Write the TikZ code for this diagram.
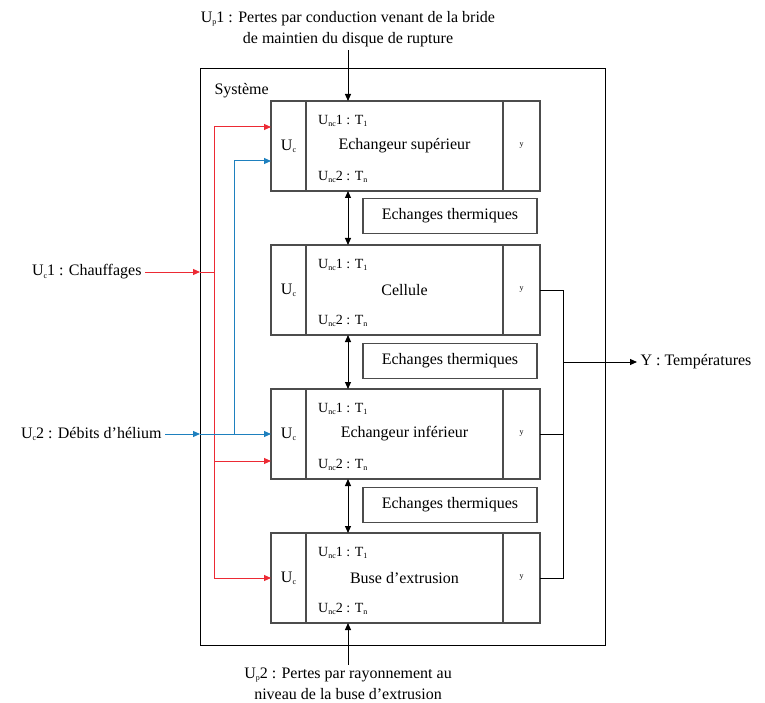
\documentclass[tikz,border=0pt]{standalone}
\usepackage{fontspec}
\setmainfont{Liberation Serif}
\usepackage{xcolor}
\usetikzlibrary{arrows.meta}
\usetikzlibrary{positioning}
\usetikzlibrary{calc}

\definecolor{rouge}{RGB}{236,42,52}
\definecolor{bleu}{RGB}{30,128,190}
\newcommand{\ind}[1]{\raisebox{-0.3ex}{\fontsize{8}{9}\selectfont #1}}

\begin{document}
\begin{tikzpicture}[x=1pt,y=-1pt,>={Triangle[length=7pt,width=6pt]}]
	\tikzstyle{every node}=[font=\fontsize{16}{21}\selectfont]
	\tikzstyle{case}=[draw=black!70,line width=1.3pt,minimum height=90pt,inner sep=0pt,outer sep=0pt]
	\tikzstyle{echange}=[draw=black!70,line width=1.3pt,minimum width=174pt,minimum height=35pt]
	\tikzstyle{petit}=[font=\fontsize{14}{16}\selectfont,inner sep=0pt,anchor=west]
	\tikzstyle{fleche}=[line width=1pt]
	
	\useasboundingbox (0,0) rectangle (765,703);
	
	% systeme
	\node[draw,line width=1pt,minimum width=405pt,minimum height=576pt,inner sep=0pt,outer sep=0pt] (sys) at (402.5,357) {};
	\node[anchor=west] (sysl) at (211,91) {Système};
	
	% echangeur superieur
	\node[case,minimum width=35pt] (uc1) at (288.5,146) {U\ind{c}};
	\node[case,minimum width=197pt,right=0pt of uc1] (m1) {Echangeur supérieur};
	\node[case,minimum width=37pt,right=0pt of m1] (y1) {\ind{y}};
	\node[petit] (t1a) at ($(m1.north west)+(12,20)$) {U\ind{nc}1 : T\ind{1}};
	\node[petit] (t1b) at ($(m1.south west)+(12,-14)$) {U\ind{nc}2 : T\ind{n}};
	
	% cellule
	\node[case,minimum width=35pt] (uc2) at (288.5,290) {U\ind{c}};
	\node[case,minimum width=197pt,right=0pt of uc2] (m2) {Cellule};
	\node[case,minimum width=37pt,right=0pt of m2] (y2) {\ind{y}};
	\node[petit] (t2a) at ($(m2.north west)+(12,20)$) {U\ind{nc}1 : T\ind{1}};
	\node[petit] (t2b) at ($(m2.south west)+(12,-14)$) {U\ind{nc}2 : T\ind{n}};
	
	% echangeur inferieur
	\node[case,minimum width=35pt] (uc3) at (288.5,434) {U\ind{c}};
	\node[case,minimum width=197pt,right=0pt of uc3] (m3) {Echangeur inférieur};
	\node[case,minimum width=37pt,right=0pt of m3] (y3) {\ind{y}};
	\node[petit] (t3a) at ($(m3.north west)+(12,20)$) {U\ind{nc}1 : T\ind{1}};
	\node[petit] (t3b) at ($(m3.south west)+(12,-14)$) {U\ind{nc}2 : T\ind{n}};
	
	% buse
	\node[case,minimum width=35pt] (uc4) at (288.5,578) {U\ind{c}};
	\node[case,minimum width=197pt,right=0pt of uc4] (m4) {Buse d’extrusion};
	\node[case,minimum width=37pt,right=0pt of m4] (y4) {\ind{y}};
	\node[petit] (t4a) at ($(m4.north west)+(12,20)$) {U\ind{nc}1 : T\ind{1}};
	\node[petit] (t4b) at ($(m4.south west)+(12,-14)$) {U\ind{nc}2 : T\ind{n}};
	
	% echanges
	\node[echange] (e1) at (450,216) {Echanges thermiques};
	\node[echange] (e2) at (450,361) {Echanges thermiques};
	\node[echange] (e3) at (450,505) {Echanges thermiques};
	
	\coordinate (axe) at (348,0);
	\draw[fleche,<->] (axe |- m1.south) -- (axe |- m2.north);
	\draw[fleche,<->] (axe |- m2.south) -- (axe |- m3.north);
	\draw[fleche,<->] (axe |- m3.south) -- (axe |- m4.north);
	
	% pertes
	\node[align=center] (up1) at (348,29) {U\ind{p}1 : Pertes par conduction venant de la bride\\de maintien du disque de rupture};
	\node[align=center] (up2) at (348,684) {U\ind{p}2 : Pertes par rayonnement au\\niveau de la buse d’extrusion};
	\draw[fleche,->] (up1.south) -- (up1.south |- m1.north);
	\draw[fleche,->] (up2.north) -- (up2.north |- m4.south);
	
	% chauffages
	\node[anchor=east] (in1) at (145,272) {U\ind{c}1 : Chauffages};
	\coordinate (rb) at (214,0);
	\coordinate (r1) at ($(uc1.west)+(0,-19)$);
	\coordinate (r3) at ($(uc3.west)+(0,27)$);
	\draw[fleche,rouge,->] (in1.east) -- (in1.east -| sys.west);
	\draw[fleche,rouge] (in1.east -| sys.west) -- (in1.east -| rb);
	\draw[fleche,rouge] (rb |- r1) -- (rb |- uc4.west);
	\draw[fleche,rouge,->] (rb |- r1) -- (r1);
	\draw[fleche,rouge,->] (rb |- r3) -- (r3);
	\draw[fleche,rouge,->] (rb |- uc4.west) -- (uc4.west);
	
	% debits
	\node[anchor=east] (in2) at (165,434) {U\ind{c}2 : Débits d’hélium};
	\coordinate (bb) at (234,0);
	\coordinate (b1) at ($(uc1.west)+(0,15)$);
	\draw[fleche,bleu,->] (in2.east) -- (in2.east -| sys.west);
	\draw[fleche,bleu,->] (in2.east -| sys.west) -- (uc3.west);
	\draw[fleche,bleu] (bb |- uc3.west) -- (bb |- b1);
	\draw[fleche,bleu,->] (bb |- b1) -- (b1);
	
	% temperatures
	\node[anchor=west] (out) at (637,362) {Y : Températures};
	\coordinate (yb) at (563,0);
	\draw[fleche] (y2.east) -- (yb |- y2.east) -- (yb |- y4.east) -- (y4.east);
	\draw[fleche] (y3.east) -- (yb |- y3.east);
	\draw[fleche,->] (yb |- out.west) -- (out.west);
\end{tikzpicture}
\end{document}
